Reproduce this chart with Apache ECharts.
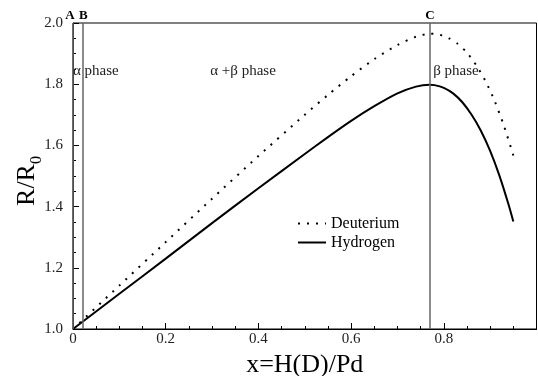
<!DOCTYPE html>
<html><head><meta charset="utf-8">
<script src="https://cdn.jsdelivr.net/npm/echarts@6/dist/echarts.min.js"></script>
<style>html,body{margin:0;padding:0;background:#fff}#c{width:538px;height:376px}</style>
</head><body><div id="c"></div>
<script>
// ---- data ----
const hydrogenX = [0, 0.1, 0.2, 0.3, 0.4, 0.5, 0.55, 0.6, 0.65, 0.7, 0.74, 0.769, 0.78, 0.8, 0.82, 0.84, 0.86, 0.88, 0.9, 0.92, 0.94, 0.95];
const hydrogenY = [1.0, 1.115, 1.23, 1.346, 1.46, 1.572, 1.627, 1.680, 1.728, 1.770, 1.792, 1.798, 1.797, 1.788, 1.770, 1.741, 1.700, 1.648, 1.582, 1.501, 1.405, 1.351];
const deuteriumX = [0, 0.1, 0.2, 0.3, 0.4, 0.5, 0.55, 0.6, 0.65, 0.7, 0.74, 0.77, 0.79, 0.81, 0.83, 0.85, 0.87, 0.89, 0.91, 0.93, 0.95];
const deuteriumY = [1.0, 1.142, 1.284, 1.426, 1.565, 1.700, 1.765, 1.826, 1.882, 1.928, 1.955, 1.965, 1.962, 1.951, 1.932, 1.903, 1.862, 1.810, 1.744, 1.663, 1.567];
const xTicks = [0, 0.2, 0.4, 0.6, 0.8];
const yTicks = [1.0, 1.2, 1.4, 1.6, 1.8, 2.0];
const phaseLinesX = [0, 0.024, 0.769];
const phaseLineNames = ['A', 'B', 'C'];
const phaseLabels = ['α phase', 'α +β phase', 'β phase'];
const phaseLabelX = [0, 0.296, 0.777];
const phaseLabelY = 1.843;

const serif = '"Liberation Serif", "DejaVu Serif", serif';
const pair = (xs, ys) => xs.map((x, i) => [x, ys[i]]);

const chart = echarts.init(document.getElementById('c'), null, {renderer: 'canvas'});
chart.setOption({
  animation: false,
  backgroundColor: '#fff',
  grid: {left: 73, right: 1.5, top: 23, bottom: 47, show: true, borderColor: '#000', borderWidth: 1,
         backgroundColor: 'transparent', containLabel: false, outerBoundsMode: 'none'},
  legend: {
    data: ['Deuterium', 'Hydrogen'],
    orient: 'vertical', left: 297, top: 215.5, padding: 0,
    itemWidth: 28, itemHeight: 10, itemGap: 3,
    itemStyle: {color: 'transparent', borderColor: 'transparent', borderWidth: 0},
    textStyle: {fontFamily: serif, fontSize: 16, color: '#000'}
  },
  xAxis: {
    type: 'value', min: 0, max: 1, interval: 0.2,
    name: 'x=H(D)/Pd', nameLocation: 'middle', nameGap: 11,
    nameTextStyle: {fontFamily: serif, fontSize: 26, color: '#000'},
    axisLine: {lineStyle: {color: '#000', width: 1}},
    axisTick: {inside: true, length: 6, lineStyle: {color: '#000'}},
    minorTick: {show: true, splitNumber: 4, length: 3, lineStyle: {color: '#000'}},
    splitLine: {show: false},
    axisLabel: {fontFamily: serif, fontSize: 15, color: '#222', margin: 3,
      formatter: v => { const t = xTicks.find(k => Math.abs(k - v) < 1e-6); return t === undefined ? '' : (t === 0 ? '0' : t.toFixed(1)); }}
  },
  yAxis: {
    type: 'value', min: 1.0, max: 2.0, interval: 0.2,
    name: '{a|R/R}{b|0}', nameLocation: 'middle', nameRotate: 90, nameGap: 28, nameMoveOverlap: false,
    nameTextStyle: {fontFamily: serif, color: '#000', padding: [0, 10, 0, 0], rich: {
      a: {fontFamily: serif, fontSize: 26, lineHeight: 36, verticalAlign: 'middle'},
      b: {fontFamily: serif, fontSize: 16, lineHeight: 16, verticalAlign: 'bottom'}
    }},
    axisLine: {lineStyle: {color: '#000', width: 1}},
    axisTick: {inside: true, length: 6, lineStyle: {color: '#000'}},
    minorTick: {show: true, splitNumber: 4, length: 3, lineStyle: {color: '#000'}},
    splitLine: {show: false},
    axisLabel: {fontFamily: serif, fontSize: 15, color: '#222', margin: 10,
      formatter: v => { const t = yTicks.find(k => Math.abs(k - v) < 1e-6); return t === undefined ? '' : t.toFixed(1); }}
  },
  series: [
    {
      name: 'Deuterium', type: 'line', data: pair(deuteriumX, deuteriumY),
      smooth: 0.25, showSymbol: false, symbol: 'none',
      lineStyle: {color: '#000', width: 2, type: [2, 7]},
      itemStyle: {color: '#000'}
    },
    {
      name: 'Hydrogen', type: 'line', data: pair(hydrogenX, hydrogenY),
      smooth: 0.25, showSymbol: false, symbol: 'none',
      lineStyle: {color: '#000', width: 2},
      itemStyle: {color: '#000'}
    },
    {
      name: 'phases', type: 'line', data: [], silent: true,
      markLine: {
        silent: true, symbol: ['none', 'none'],
        lineStyle: {color: '#666', width: 1.5, type: 'solid'},
        label: {position: 'end', distance: 1, fontFamily: serif, fontSize: 13, fontWeight: 'bold', color: '#000'},
        data: phaseLinesX.map((x, i) => ({xAxis: x, label: {formatter: phaseLineNames[i], offset: i === 0 ? [-3, 0] : (i === 1 ? [1, 0] : [0, 0])}}))
      },
      markPoint: {
        silent: true, symbol: 'circle', symbolSize: 0,
        label: {show: true, position: 'right', distance: 0, fontFamily: serif, fontSize: 15, color: '#222'},
        data: phaseLabels.map((t, i) => ({coord: [phaseLabelX[i], phaseLabelY], label: {formatter: t}}))
      }
    }
  ]
});
</script></body></html>
